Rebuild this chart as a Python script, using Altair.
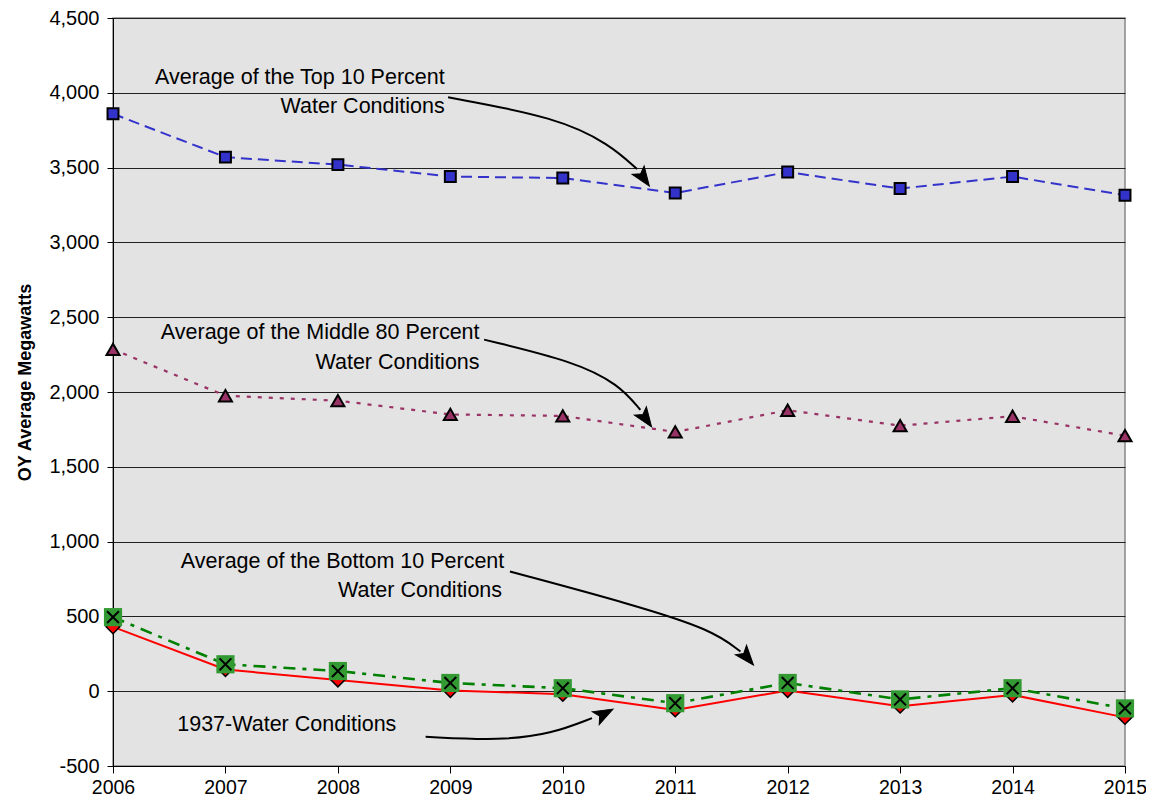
import altair as alt
import pandas as pd

years = [2006, 2007, 2008, 2009, 2010, 2011, 2012, 2013, 2014, 2015]
top10 = [3860, 3570, 3520, 3440, 3430, 3330, 3470, 3360, 3440, 3315]
mid80 = [2285, 1975, 1942, 1850, 1840, 1733, 1878, 1775, 1838, 1708]
bottom10 = [495, 180, 135, 55, 20, -80, 55, -55, 20, -115]
w1937 = [430, 145, 75, 5, -20, -125, 5, -100, -25, -175]

y_ticks = [-500, 0, 500, 1000, 1500, 2000, 2500, 3000, 3500, 4000, 4500]

# annotation texts (x = right edge in years, y = value)
ann_text = ["Average of the Top 10 Percent", "Water Conditions",
            "Average of the Middle 80 Percent", "Water Conditions",
            "Average of the Bottom 10 Percent", "Water Conditions",
            "1937-Water Conditions"]
ann_x = [2008.95, 2008.95, 2009.26, 2009.26, 2009.48, 2009.46, 2008.52]
ann_y = [4100, 3905, 2395, 2195, 865, 670, -225]

# arrow paths (id, order, x, y)
arrow_id = [0, 0, 0, 0, 1, 1, 1, 1, 2, 2, 2, 2, 3, 3, 3, 3]
arrow_x = [2008.98, 2009.95, 2010.42, 2010.66,
           2009.30, 2010.10, 2010.50, 2010.69,
           2009.53, 2010.62, 2011.33, 2011.58,
           2008.78, 2009.45, 2009.90, 2010.26]
arrow_y = [3970, 3835, 3655, 3490,
           2350, 2205, 2050, 1880,
           800, 580, 410, 265,
           -305, -330, -285, -180]
head_x = [2010.72, 2010.74, 2011.64, 2010.37]
head_y = [3430, 1820, 225, -150]
head_angle = [145, 145, 140, 62]

df = pd.DataFrame({"year": years, "top": top10, "mid": mid80,
                   "bot": bottom10, "w37": w1937})
ann = pd.DataFrame({"text": ann_text, "x": ann_x, "y": ann_y})
arr = pd.DataFrame({"id": arrow_id, "order": list(range(len(arrow_id))),
                    "x": arrow_x, "y": arrow_y})
heads = pd.DataFrame({"x": head_x, "y": head_y, "angle": head_angle})

FONT = "Liberation Sans"
xs = alt.Scale(domain=[2006, 2015], nice=False, zero=False)
ys = alt.Scale(domain=[-500, 4500], nice=False, zero=False)

X = alt.X("year:Q", scale=xs, axis=alt.Axis(values=years, format="d", title=None,
          grid=False, labelFontSize=19.5, labelColor="black", tickColor="black",
          domainColor="black", tickSize=7, labelPadding=5, labelFont=FONT,
          labelFlush=False))
Y_axis = alt.Axis(values=y_ticks, title="OY Average Megawatts",
                  labelExpr="datum.value < 0 ? '-' + format(-datum.value, ',d') : format(datum.value, ',d')",
                  titleFontSize=18, titleFontWeight="bold", titleFont=FONT,
                  titleColor="black", titlePadding=14, titleY=364,
                  grid=True, gridColor="#222222", gridWidth=1,
                  labelFontSize=20, labelColor="black", labelFont=FONT,
                  tickColor="black", domainColor="black", tickSize=6, labelPadding=8)

base = alt.Chart(df)

def series_line(field, color, dash, width):
    kw = dict(color=color, strokeWidth=width)
    if dash:
        kw["strokeDash"] = dash
    return base.mark_line(**kw).encode(
        x=X, y=alt.Y(f"{field}:Q", scale=ys, axis=Y_axis))

lines = [
    series_line("top", "#3333CC", [11, 6], 2),
    series_line("mid", "#993366", [4, 7], 2.2),
    series_line("w37", "#FF0000", None, 2),
    series_line("bot", "#008000", [12, 7, 4, 7], 2.6),
]

def pts(field, shape, fill, size, stroke="black", sw=1.5):
    return base.mark_point(shape=shape, filled=True, fill=fill, stroke=stroke,
                           strokeWidth=sw, size=size, opacity=1).encode(
        x=X, y=alt.Y(f"{field}:Q", scale=ys))

markers = [
    pts("top", "square", "#3333CC", 120, sw=2),
    pts("mid", "triangle-up", "#993366", 170, sw=2),
    pts("w37", "diamond", "#FF0000", 190),
    pts("bot", "square", "#339933", 330, stroke="#339933", sw=0),
    base.mark_point(shape="M-1,-1L1,1M-1,1L1,-1", filled=False, stroke="black",
                    strokeWidth=2, size=140, opacity=1).encode(
        x=X, y=alt.Y("bot:Q", scale=ys)),
]

texts = alt.Chart(ann).mark_text(align="right", baseline="middle", fontSize=21.5,
                                 font=FONT, color="black").encode(
    x=alt.X("x:Q", scale=xs), y=alt.Y("y:Q", scale=ys), text="text:N")

arrows = alt.Chart(arr).mark_line(color="black", strokeWidth=2,
                                  interpolate="basis").encode(
    x=alt.X("x:Q", scale=xs), y=alt.Y("y:Q", scale=ys),
    detail="id:N", order="order:Q")

heads_m = alt.Chart(heads).mark_point(shape="M0,-1L0.75,1L0,0.55L-0.75,1Z", filled=True,
                                      fill="black", stroke="black", strokeWidth=1,
                                      size=380, opacity=1).encode(
    x=alt.X("x:Q", scale=xs), y=alt.Y("y:Q", scale=ys), angle=alt.Angle("angle:Q", scale=None))

chart = alt.layer(*lines, arrows, heads_m, *markers, texts).properties(
    width=1012, height=748,
    autosize=alt.AutoSizeParams(type="none"),
    padding={"left": 105, "top": 10, "right": 21, "bottom": 36},
    background="white",
).configure_view(fill="#E3E3E3", stroke="#888888", strokeWidth=1.5)

chart.save("out.html", embed_options={"renderer": "svg", "actions": False})
